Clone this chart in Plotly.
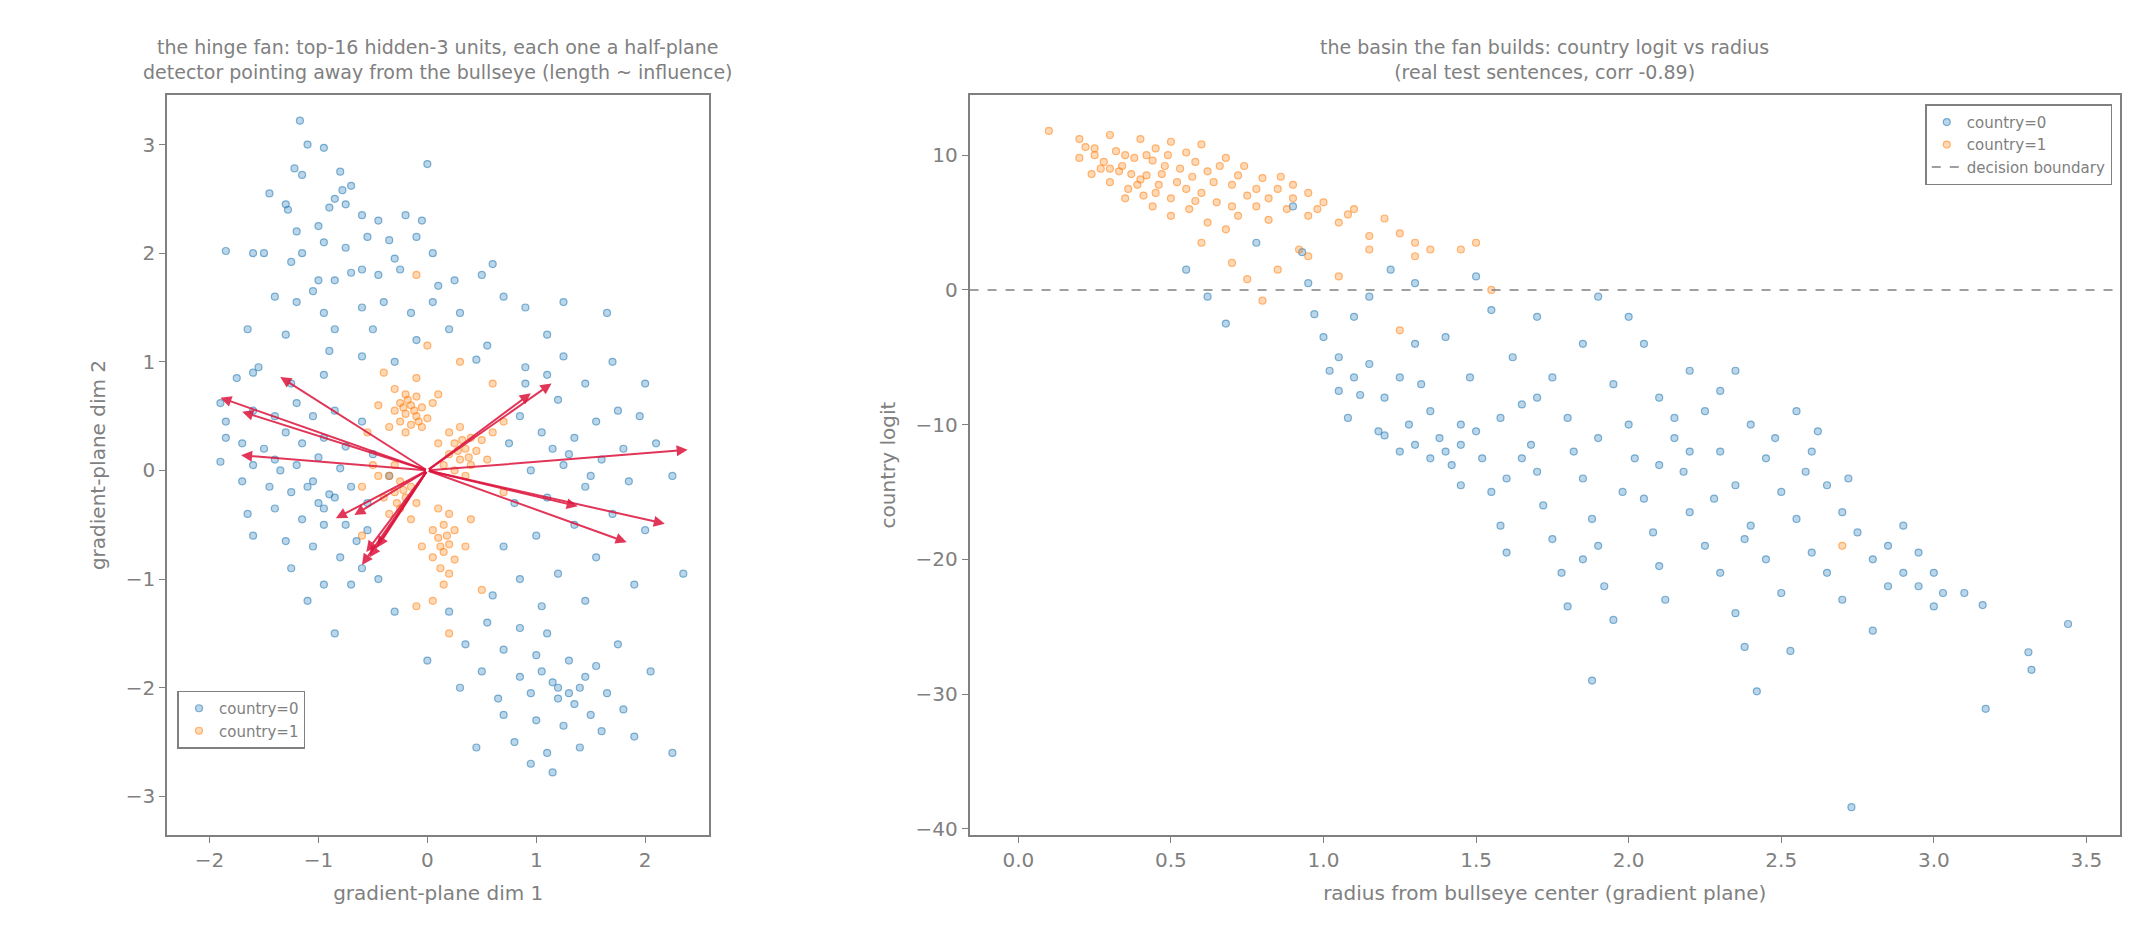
import plotly.graph_objects as go

# left panel: gradient plane, hand-read points
blue_left = [
    (-1.17,3.22),(-1.1,3.0),(-0.95,2.97),(-1.22,2.78),(-1.15,2.72),(-0.8,2.75),(-0.78,2.58),(-0.7,2.62),(-1.45,2.55),(-1.3,2.45),
    (-1.28,2.4),(-0.9,2.42),(-0.85,2.5),(-0.6,2.35),(-0.45,2.3),(-0.2,2.35),(-0.05,2.3),(-0.55,2.15),(-0.75,2.05),(-0.95,2.1),
    (-1.2,2.2),(-1.15,2.0),(-1.25,1.92),(-1.85,2.02),(-1.6,2.0),(-1.5,2.0),(-0.35,2.12),(-0.1,2.15),(0.05,2.0),(-0.3,1.95),
    (-0.6,1.85),(-0.7,1.82),(-0.85,1.75),(-1.0,1.75),(-1.05,1.65),(-0.45,1.8),(-0.25,1.85),(0.1,1.7),(0.25,1.75),(0.5,1.8),
    (0.6,1.9),(-1.4,1.6),(-1.2,1.55),(-0.95,1.45),(-0.6,1.5),(-0.4,1.55),(-0.15,1.45),(0.05,1.55),(0.3,1.45),(0.7,1.6),
    (0.9,1.5),(1.25,1.55),(1.65,1.45),(-1.65,1.3),(-1.3,1.25),(-0.85,1.3),(-0.5,1.3),(-0.1,1.2),(0.2,1.3),(0.55,1.15),
    (1.1,1.25),(-0.9,1.1),(-0.6,1.05),(-0.3,1.0),(0.45,1.02),(-1.6,0.9),(0.9,0.95),(-0.75,2.45),(0.0,2.82),(-1.0,2.25),
    (-1.75,0.85),(-1.55,0.95),(-1.25,0.8),(-0.95,0.88),(-1.9,0.62),(-1.85,0.45),(-1.6,0.55),(-1.4,0.5),(-1.2,0.62),(-1.05,0.5),
    (-0.85,0.55),(-0.6,0.45),(-1.85,0.3),(-1.7,0.25),(-1.5,0.2),(-1.3,0.35),(-1.15,0.25),(-0.95,0.3),(-0.75,0.22),(-0.5,0.15),
    (-1.9,0.08),(-1.6,0.05),(-1.4,0.1),(-1.2,0.05),(-1.0,0.12),(-0.8,0.02),(-0.35,-0.05),(-1.7,-0.1),(-1.45,-0.15),(-1.25,-0.2),
    (-1.05,-0.1),(-0.9,-0.22),(-0.7,-0.15),(-0.55,-0.3),(-1.65,-0.4),(-1.4,-0.35),(-1.15,-0.45),(-0.95,-0.35),(-0.75,-0.5),(-0.55,-0.55),
    (-1.6,-0.6),(-1.3,-0.65),(-1.05,-0.7),(-0.8,-0.8),(-0.6,-0.9),(-1.25,-0.9),(-0.95,-1.05),(-0.7,-1.05),(-0.45,-1.0),(-1.1,-1.2),
    (-0.3,-1.3),(-0.85,-1.5),(-1.0,-0.3),(-0.85,-0.25),(-1.1,-0.15),(-0.95,-0.5),(-1.35,0.0),(-0.65,-0.65),
    (1.25,1.05),(1.1,0.88),(1.45,0.8),(1.75,0.55),(1.2,0.65),(0.85,0.5),(1.55,0.45),(1.95,0.5),(2.1,0.25),(1.35,0.3),
    (1.05,0.35),(0.75,0.25),(1.8,0.2),(1.6,0.1),(1.25,0.05),(0.95,0.0),(2.25,-0.05),(1.85,-0.1),(1.45,-0.15),(1.1,-0.25),
    (0.8,-0.3),(2.35,-0.95),(2.0,-0.55),(1.7,-0.4),(1.35,-0.5),(1.0,-0.6),(0.7,-0.7),(1.55,-0.8),(1.2,-0.95),(0.85,-1.0),
    (1.9,-1.05),(1.45,-1.2),(1.05,-1.25),(0.6,-1.15),(1.7,1.0),(2.0,0.8),(0.9,0.8),(1.3,0.15),(1.5,-0.05),(1.15,0.2),
    (0.2,-1.3),(0.55,-1.4),(0.85,-1.45),(1.1,-1.5),(0.35,-1.6),(0.7,-1.65),(1.0,-1.7),(1.3,-1.75),(1.55,-1.8),(0.5,-1.85),
    (0.85,-1.9),(1.15,-1.95),(1.4,-2.0),(1.65,-2.05),(0.65,-2.1),(0.95,-2.05),(1.2,-2.1),(1.35,-2.15),(1.5,-2.25),(1.8,-2.2),
    (0.7,-2.25),(1.0,-2.3),(1.25,-2.35),(1.6,-2.4),(1.9,-2.45),(0.45,-2.55),(0.8,-2.5),(1.1,-2.6),(1.4,-2.55),(1.15,-2.78),
    (0.95,-2.7),(2.25,-2.6),(0.0,-1.75),(0.3,-2.0),(1.75,-1.6),(2.05,-1.85),(1.2,-2.0),(1.3,-2.05),(1.05,-1.85),(1.45,-1.9),
]
orange_left = [
    (-0.3,0.75),(-0.2,0.7),(-0.1,0.68),(-0.25,0.62),(-0.15,0.6),(-0.05,0.58),(-0.3,0.55),(-0.2,0.52),(-0.1,0.5),(0.0,0.48),
    (-0.25,0.45),(-0.15,0.42),(-0.05,0.4),(-0.35,0.4),(-0.2,0.35),(0.05,0.62),(-0.4,0.9),(-0.1,0.85),(-0.45,0.6),(0.1,0.7),
    (-0.18,0.65),(-0.12,0.55),(-0.22,0.58),(-0.08,0.45),
    (0.3,0.4),(0.2,0.35),(0.4,0.3),(0.25,0.25),(0.35,0.2),(0.45,0.18),(0.2,0.15),(0.3,0.1),(0.4,0.05),(0.25,0.0),
    (0.35,-0.05),(0.15,0.05),(0.5,0.28),(0.55,0.1),(0.1,0.25),(0.6,0.35),(0.32,0.28),(0.28,0.18),(0.38,0.12),
    (-0.35,-0.05),(-0.25,-0.1),(-0.15,-0.15),(-0.3,-0.2),(-0.2,-0.25),(-0.4,-0.25),(-0.1,-0.3),(-0.25,-0.35),(-0.35,-0.4),(-0.15,-0.45),
    (-0.45,-0.05),(-0.5,0.05),(-0.3,0.05),(-0.6,-0.15),(-0.22,-0.18),(-0.28,-0.3),
    (0.1,-0.35),(0.2,-0.4),(0.15,-0.5),(0.05,-0.55),(0.25,-0.55),(0.1,-0.62),(0.2,-0.68),(0.15,-0.75),(0.05,-0.8),(0.25,-0.82),
    (0.12,-0.9),(0.2,-0.95),(0.15,-1.05),(0.35,-0.7),(0.4,-0.45),(-0.05,-0.7),(0.05,-1.2),(0.2,-1.5),(0.18,-0.6),(0.12,-0.7),
    (-0.1,1.8),(0.0,1.15),(0.3,1.0),(0.6,0.8),(-0.55,0.35),(0.7,-0.2),(-0.6,-0.6),(0.5,-1.1),(-0.1,-1.25),(0.7,0.45),
]
# fan arrow tips (hidden-3 unit directions, drawn from the origin)
arrow_x = [-1.9, -1.7, -1.35, -1.71, -0.84, -0.67, -0.6, -0.56, -0.46, -0.53, 2.39, 2.18, 1.83, 1.14, 0.95, 1.38]
arrow_y = [0.67, 0.54, 0.86, 0.14, -0.44, -0.41, -0.87, -0.75, -0.71, -0.8, 0.19, -0.49, -0.66, 0.8, 0.71, -0.33]

# right panel: radius vs country logit
blue_right = [
    (0.55,1.5),(0.62,-0.5),(0.68,-2.5),(0.78,3.5),(0.9,6.2),(0.93,2.8),(0.95,0.5),(0.97,-1.8),(1.0,-3.5),(1.02,-6.0),
    (1.05,-7.5),(1.1,-2.0),(1.15,-5.5),(1.2,-8.0),(1.08,-9.5),(1.18,-10.5),(1.25,-12.0),(1.22,1.5),(1.3,-4.0),(1.32,-7.0),
    (1.35,-9.0),(1.38,-11.0),(1.42,-13.0),(1.45,-14.5),(1.28,-10.0),(1.4,-3.5),(1.48,-6.5),(1.5,-10.5),(1.52,-12.5),(1.55,-15.0),
    (1.58,-17.5),(1.6,-19.5),(1.5,1.0),(1.55,-1.5),(1.62,-5.0),(1.65,-8.5),(1.68,-11.5),(1.7,-13.5),(1.72,-16.0),(1.75,-18.5),
    (1.78,-21.0),(1.8,-23.5),(1.7,-2.0),(1.75,-6.5),(1.8,-9.5),(1.82,-12.0),(1.85,-14.0),(1.88,-17.0),(1.9,-19.0),(1.92,-22.0),
    (1.95,-24.5),(1.88,-29.0),(1.85,-4.0),(1.9,-0.5),(1.95,-7.0),(2.0,-10.0),(2.02,-12.5),(2.05,-15.5),(2.08,-18.0),(2.1,-20.5),
    (2.12,-23.0),(2.05,-4.0),(2.1,-8.0),(2.15,-11.0),(2.18,-13.5),(2.2,-16.5),(2.25,-19.0),(2.3,-21.0),(2.35,-24.0),(2.42,-29.8),
    (2.38,-26.5),(2.2,-6.0),(2.25,-9.0),(2.3,-12.0),(2.35,-14.5),(2.4,-17.5),(2.45,-20.0),(2.5,-22.5),(2.53,-26.8),(2.3,-7.5),
    (2.4,-10.0),(2.45,-12.5),(2.5,-15.0),(2.55,-17.0),(2.6,-19.5),(2.65,-21.0),(2.7,-23.0),(2.6,-12.0),(2.65,-14.5),(2.7,-16.5),
    (2.75,-18.0),(2.8,-20.0),(2.85,-22.0),(2.73,-38.4),(2.9,-17.5),(2.95,-19.5),(3.0,-21.0),(3.03,-22.5),(3.0,-23.5),(3.1,-22.5),
    (3.16,-23.4),(3.17,-31.1),(3.31,-26.9),(3.32,-28.2),(3.44,-24.8),(2.8,-25.3),(1.12,-7.8),(1.25,-6.5),(1.35,-12.5),(1.45,-10.0),
    (1.6,-14.0),(1.65,-12.5),(1.98,-15.0),(2.15,-9.5),(2.28,-15.5),(2.38,-18.5),(2.48,-11.0),(2.58,-13.5),(2.72,-14.0),(2.0,-2.0),
    (2.35,-6.0),(1.15,-0.5),(1.3,0.5),(1.4,-12.0),(1.45,-11.5),(1.3,-11.5),(1.2,-10.8),(1.1,-6.5),(1.05,-5.0),(2.55,-9.0),
    (2.62,-10.5),(2.85,-19.0),(2.9,-21.0),(2.95,-22.0),(1.7,-8.0),(1.58,-9.5),(1.9,-11.0),(2.1,-13.0),(2.2,-12.0),(1.85,-20.0),
]
orange_right = [
    (0.1,11.8),(0.2,11.2),(0.25,10.5),(0.3,11.5),(0.35,10.0),(0.4,11.2),(0.45,10.5),(0.5,11.0),(0.55,10.2),(0.6,10.8),
    (0.28,9.5),(0.33,8.8),(0.38,9.8),(0.42,8.5),(0.48,9.2),(0.52,8.0),(0.58,9.5),(0.62,8.8),(0.68,9.8),(0.72,8.5),
    (0.3,8.0),(0.36,7.5),(0.41,7.0),(0.46,7.8),(0.5,6.8),(0.55,7.5),(0.6,7.2),(0.65,6.5),(0.7,7.8),(0.75,7.0),
    (0.8,8.3),(0.85,7.5),(0.9,6.8),(0.95,7.2),(0.2,9.8),(0.24,8.6),(0.44,6.2),(0.5,5.5),(0.56,6.0),(0.62,5.0),
    (0.68,4.5),(0.72,5.5),(0.78,6.2),(0.82,5.2),(0.88,6.0),(0.95,5.5),(1.0,6.5),(1.05,5.0),(1.1,6.0),(1.15,4.0),
    (1.2,5.3),(1.25,4.2),(1.3,3.5),(1.35,3.0),(1.45,3.0),(0.6,3.5),(0.7,2.0),(0.75,0.8),(0.85,1.5),(0.95,2.5),
    (1.05,1.0),(1.15,3.0),(1.3,2.5),(1.5,3.5),(0.8,-0.8),(1.55,0.0),(0.92,3.0),(0.34,9.2),(0.4,8.2),(0.44,9.6),
    (0.37,8.6),(0.47,8.6),(0.53,9.0),(0.32,10.3),(0.27,9.0),(0.39,7.8),(0.45,7.2),(0.57,8.4),(0.64,8.0),(0.66,9.2),
    (0.74,9.2),(0.78,7.5),(0.82,6.8),(0.86,8.4),(0.9,7.8),(0.35,6.8),(0.25,10.0),(0.3,9.0),(0.42,10.0),(0.49,10.0),
    (0.22,10.6),(0.58,6.6),(0.7,6.2),(0.98,6.0),(1.08,5.6),(1.25,-3.0),(2.7,-19.0),
]


def xs(pts):
    return [p[0] for p in pts]


def ys(pts):
    return [p[1] for p in pts]


GREY = "#808080"
FONT = "DejaVu Sans"


def marker(rgb):
    return dict(size=7, color="rgba(%s,0.3)" % rgb, line=dict(width=1.2, color="rgba(%s,0.55)" % rgb))


BLUE_RGB = "31,119,180"
ORANGE_RGB = "255,127,14"

fig = go.Figure()
fig.add_trace(go.Scatter(x=xs(blue_left), y=ys(blue_left), mode="markers", name="country=0",
                         marker=marker(BLUE_RGB), xaxis="x", yaxis="y", legend="legend"))
fig.add_trace(go.Scatter(x=xs(orange_left), y=ys(orange_left), mode="markers", name="country=1",
                         marker=marker(ORANGE_RGB), xaxis="x", yaxis="y", legend="legend"))
fig.add_trace(go.Scatter(x=xs(blue_right), y=ys(blue_right), mode="markers", name="country=0",
                         marker=marker(BLUE_RGB), xaxis="x2", yaxis="y2", legend="legend2"))
fig.add_trace(go.Scatter(x=xs(orange_right), y=ys(orange_right), mode="markers", name="country=1",
                         marker=marker(ORANGE_RGB), xaxis="x2", yaxis="y2", legend="legend2"))
fig.add_trace(go.Scatter(x=[-0.16, 3.61], y=[0, 0], mode="lines", name="decision boundary",
                         line=dict(color=GREY, dash="dash", width=1.5), xaxis="x2", yaxis="y2", legend="legend2"))

for tx, ty in zip(arrow_x, arrow_y):
    fig.add_annotation(x=tx, y=ty, ax=0, ay=0, xref="x", yref="y", axref="x", ayref="y",
                       showarrow=True, arrowhead=2, arrowsize=1.1, arrowwidth=2,
                       arrowcolor="rgba(220,20,60,0.85)", text="")

axis = dict(showline=True, linecolor=GREY, linewidth=1.5, mirror=True, ticks="outside",
            tickcolor=GREY, ticklen=6, tickfont=dict(size=20, color=GREY), showgrid=False,
            zeroline=False, title_font=dict(size=20, color=GREY))

legend_style = dict(bgcolor="white", bordercolor=GREY, borderwidth=1.5,
                    font=dict(size=15, color=GREY))

fig.update_layout(
    width=2132, height=940, plot_bgcolor="white", paper_bgcolor="white",
    margin=dict(l=0, r=0, t=0, b=0),
    font=dict(family=FONT, color=GREY),
    xaxis=dict(axis, domain=[0.0746, 0.329], range=[-2.39, 2.59], tickvals=[-2, -1, 0, 1, 2],
               ticktext=["−2", "−1", "0", "1", "2"], title_text="gradient-plane dim 1"),
    yaxis=dict(axis, domain=[0.115, 0.9074], range=[-3.36, 3.46], tickvals=[-3, -2, -1, 0, 1, 2, 3],
               ticktext=["−3", "−2", "−1", "0", "1", "2", "3"], title_text="gradient-plane dim 2"),
    xaxis2=dict(axis, domain=[0.451, 0.9906], range=[-0.16, 3.61], anchor="y2",
                tickvals=[0, 0.5, 1, 1.5, 2, 2.5, 3, 3.5],
                ticktext=["0.0", "0.5", "1.0", "1.5", "2.0", "2.5", "3.0", "3.5"],
                title_text="radius from bullseye center (gradient plane)"),
    yaxis2=dict(axis, domain=[0.115, 0.9074], range=[-40.5, 14.5], anchor="x2",
                tickvals=[-40, -30, -20, -10, 0, 10],
                ticktext=["−40", "−30", "−20", "−10", "0", "10"], title_text="country logit"),
    legend=dict(legend_style, x=0.0795, y=0.208, xanchor="left", yanchor="bottom"),
    legend2=dict(legend_style, x=0.987, y=0.897, xanchor="right", yanchor="top"),
    annotations=list(fig.layout.annotations) + [
        dict(text="the hinge fan: top-16 hidden-3 units, each one a half-plane<br>"
                  "detector pointing away from the bullseye (length ~ influence)",
             x=0.2018, y=0.918, xref="paper", yref="paper", xanchor="center", yanchor="bottom",
             showarrow=False, font=dict(size=19, color=GREY)),
        dict(text="the basin the fan builds: country logit vs radius<br>(real test sentences, corr -0.89)",
             x=0.7208, y=0.918, xref="paper", yref="paper", xanchor="center", yanchor="bottom",
             showarrow=False, font=dict(size=19, color=GREY)),
    ],
)

fig.write_html("out.html")
